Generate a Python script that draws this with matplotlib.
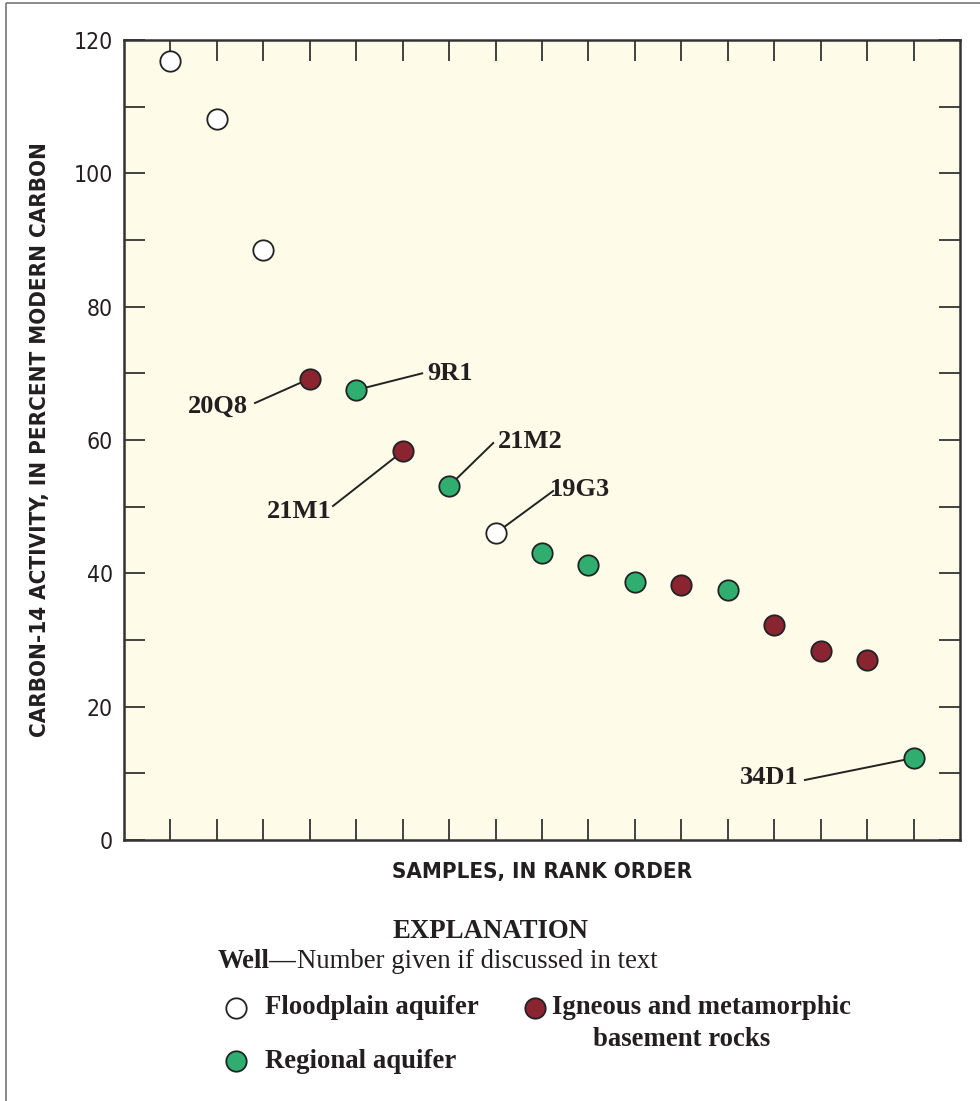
import numpy as np
import matplotlib
matplotlib.use('Agg')
import matplotlib.pyplot as plt
from matplotlib.patches import Rectangle

# carbon-14 activity, percent modern carbon, in rank order
rank = list(range(1, 18))
c14 = [116.8, 108.2, 88.5, 69.2, 67.5, 58.3, 53.1, 46.0, 43.1,
       41.3, 38.7, 38.3, 37.5, 32.3, 28.3, 27.0, 12.3]
group = ['flood', 'flood', 'flood', 'igneous', 'regional', 'igneous',
         'regional', 'flood', 'regional', 'regional', 'regional',
         'igneous', 'regional', 'igneous', 'igneous', 'igneous', 'regional']

# wells discussed in text: name, rank of sample
well_names = ['20Q8', '9R1', '21M1', '21M2', '19G3', '34D1']
well_rank = [4, 5, 6, 7, 8, 17]

colors = {'flood': 'white', 'regional': '#2FAE6F', 'igneous': '#8A2431'}
bg = '#FEFBE9'
serif = ['Liberation Serif', 'DejaVu Serif']

W, H = 980, 1101
fig = plt.figure(figsize=(W / 100, H / 100), dpi=100)
ax = fig.add_axes([124 / W, 1 - 840 / H, 836 / W, 800 / H])
ax.set_facecolor(bg)

for g in ['flood', 'regional', 'igneous']:
    xs = [r for r, gg in zip(rank, group) if gg == g]
    ys = [v for v, gg in zip(c14, group) if gg == g]
    ax.scatter(xs, ys, s=215, c=colors[g], edgecolors='#222222',
               linewidths=1.3, zorder=3)

# label text centre and leader-line start (data units)
lab_text = [(2.02, 65.1), (7.02, 70.0), (3.77, 49.3),
            (8.74, 59.85), (9.82, 52.5), (13.89, 9.3)]
lab_line = [(2.82, 65.55), (6.42, 70.0), (4.50, 50.1),
            (7.95, 59.55), (9.24, 52.35), (14.66, 9.0)]
for name, r, (tx, ty), (lx, ly) in zip(well_names, well_rank, lab_text, lab_line):
    ax.plot([lx, r], [ly, c14[r - 1]], color='#222222', lw=1.4, zorder=2)
    ax.text(tx, ty, name, ha='center', va='center', fontsize=19,
            fontweight='bold', family=serif, color='#231F20')

ax.set_xlim(0, 18)
ax.set_ylim(0, 120)
ax.set_xticks(rank)
ax.set_xticklabels([])
ax.set_yticks(np.arange(0, 121, 20))
ax.set_yticks(np.arange(10, 120, 20), minor=True)
ax.tick_params(which='both', direction='in', length=15, width=1.3,
               top=True, right=True, color='#333333')
ax.tick_params(axis='y', labelsize=16.5, pad=8, labelcolor='#231F20')
for lab in ax.get_yticklabels():
    lab.set_family('DejaVu Sans')
    lab.set_stretch('condensed')
for sp in ax.spines.values():
    sp.set_linewidth(1.8)
    sp.set_color('#333333')

ax.set_ylabel('CARBON-14 ACTIVITY, IN PERCENT MODERN CARBON', fontsize=16,
              fontweight='bold', family='DejaVu Sans', fontstretch='condensed',
              va='center', color='#231F20')
ax.yaxis.set_label_coords((40.5 - 124) / 836, 0.5)
ax.set_xlabel('SAMPLES, IN RANK ORDER', fontsize=16, fontweight='bold',
              family='DejaVu Sans', fontstretch='condensed', va='center',
              color='#231F20')
ax.xaxis.set_label_coords(0.5, -(872 - 840) / 800)

# overlay in pixel coordinates for border and explanation
ov = fig.add_axes([0, 0, 1, 1], zorder=-1)
ov.set_xlim(0, W)
ov.set_ylim(H, 0)
ov.axis('off')
ov.patch.set_visible(False)
ov.add_patch(Rectangle((6, 3), 1000, 1200, fill=False, ec='#777777', lw=1.2))

fs = 19.3
ov.text(490, 931, 'EXPLANATION', ha='center', va='center', fontsize=fs,
        fontweight='bold', family=serif, color='#231F20')
t = ov.text(218, 962, 'Well\u2014', ha='left', va='center', fontsize=fs,
            fontweight='bold', family=serif, color='#231F20')
fig.canvas.draw()
bb = t.get_window_extent()
ov.text(218 + bb.width, 962, 'Number given if discussed in text', ha='left',
        va='center', fontsize=fs, family=serif, color='#231F20')

leg = [('flood', 236, 1008, 'Floodplain aquifer', 265),
       ('igneous', 535, 1008, 'Igneous and metamorphic', 552),
       ('regional', 236, 1061, 'Regional aquifer', 265)]
for g, mx, my, txt, tx in leg:
    ov.scatter([mx], [my], s=215, c=colors[g], edgecolors='#222222', linewidths=1.3)
    ov.text(tx, my, txt, ha='left', va='center', fontsize=fs,
            fontweight='bold', family=serif, color='#231F20')
ov.text(593, 1040, 'basement rocks', ha='left', va='center', fontsize=fs,
        fontweight='bold', family=serif, color='#231F20')

fig.savefig('out.png', dpi=100)
